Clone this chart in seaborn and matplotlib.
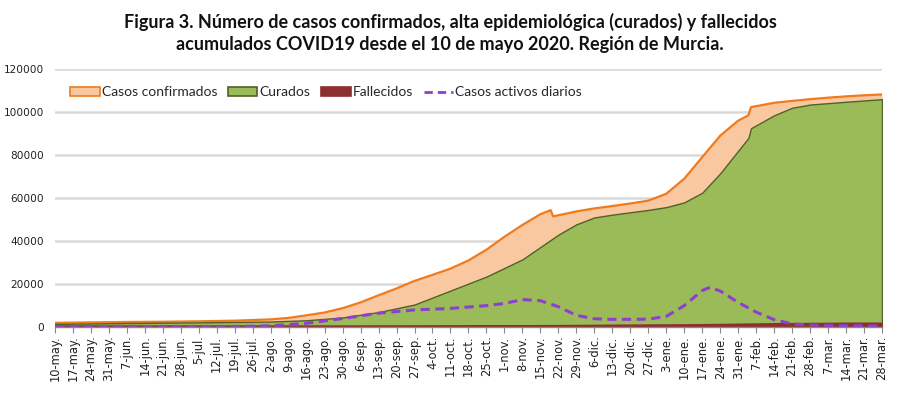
import numpy as np
import pandas as pd
import seaborn as sns
import matplotlib.pyplot as plt
from matplotlib.patches import Patch
from matplotlib.lines import Line2D

# Casos confirmados acumulados
conf_dates = ['2020-05-10', '2020-05-24', '2020-06-07', '2020-06-21', '2020-07-05', '2020-07-19',
              '2020-08-02', '2020-08-09', '2020-08-16', '2020-08-23', '2020-08-30', '2020-09-06',
              '2020-09-13', '2020-09-20', '2020-09-27', '2020-10-04', '2020-10-11', '2020-10-18',
              '2020-10-25', '2020-11-01', '2020-11-08', '2020-11-15', '2020-11-19', '2020-11-20',
              '2020-11-29', '2020-12-06', '2020-12-13', '2020-12-20', '2020-12-27', '2021-01-03',
              '2021-01-10', '2021-01-17', '2021-01-24', '2021-01-31', '2021-02-04', '2021-02-05',
              '2021-02-14', '2021-02-21', '2021-02-28', '2021-03-07', '2021-03-14', '2021-03-21',
              '2021-03-28']
conf_vals = [2000, 2200, 2400, 2500, 2700, 3000,
             3600, 4300, 5500, 6800, 8800, 11500,
             14800, 18000, 21500, 24300, 27200, 31000,
             36000, 42000, 47500, 52500, 54400, 51500,
             53800, 55200, 56300, 57500, 58800, 62000,
             69000, 79000, 89000, 96000, 98500, 102300,
             104300, 105200, 106000, 106700, 107300, 107800,
             108200]

# Curados acumulados
cur_dates = ['2020-05-10', '2020-06-07', '2020-07-05', '2020-08-02', '2020-08-16', '2020-08-30',
             '2020-09-13', '2020-09-27', '2020-10-11', '2020-10-25', '2020-11-08', '2020-11-22',
             '2020-11-29', '2020-12-06', '2020-12-13', '2020-12-27', '2021-01-03', '2021-01-10',
             '2021-01-17', '2021-01-24', '2021-01-31', '2021-02-04', '2021-02-05', '2021-02-14',
             '2021-02-21', '2021-02-28', '2021-03-14', '2021-03-28']
cur_vals = [1500, 1900, 2200, 2600, 3200, 4500,
            7000, 10500, 17000, 23500, 31500, 43000,
            47800, 51000, 52300, 54500, 55800, 58000,
            62500, 71500, 82000, 88000, 92500, 98500,
            102000, 103500, 104800, 106000]

# Fallecidos acumulados
fal_dates = ['2020-05-10', '2020-07-05', '2020-08-30', '2020-09-27', '2020-10-25', '2020-11-22',
             '2020-12-20', '2021-01-17', '2021-02-14', '2021-03-14', '2021-03-28']
fal_vals = [148, 150, 170, 220, 290, 440, 650, 850, 1300, 1530, 1560]

# Casos activos diarios
act_dates = ['2020-05-10', '2020-07-19', '2020-08-02', '2020-08-16', '2020-08-30', '2020-09-13',
             '2020-09-27', '2020-10-11', '2020-10-25', '2020-11-01', '2020-11-08', '2020-11-15',
             '2020-11-22', '2020-11-29', '2020-12-06', '2020-12-13', '2020-12-27', '2021-01-03',
             '2021-01-10', '2021-01-17', '2021-01-20', '2021-01-24', '2021-01-31', '2021-02-07',
             '2021-02-14', '2021-02-21', '2021-02-28', '2021-03-14', '2021-03-28']
act_vals = [250, 300, 600, 1800, 4000, 6500,
            8000, 8700, 10000, 11000, 12800, 12300,
            9500, 5500, 3900, 3600, 3700, 5000,
            10000, 17000, 18500, 16800, 11500, 7000,
            3500, 1500, 1000, 700, 600]

tick_labels = ['10-may.', '17-may.', '24-may.', '31-may.', '7-jun.', '14-jun.', '21-jun.', '28-jun.',
               '5-jul.', '12-jul.', '19-jul.', '26-jul.', '2-ago.', '9-ago.', '16-ago.', '23-ago.',
               '30-ago.', '6-sep.', '13-sep.', '20-sep.', '27-sep.', '4-oct.', '11-oct.', '18-oct.',
               '25-oct.', '1-nov.', '8-nov.', '15-nov.', '22-nov.', '29-nov.', '6-dic.', '13-dic.',
               '20-dic.', '27-dic.', '3-ene.', '10-ene.', '17-ene.', '24-ene.', '31-ene.', '7-feb.',
               '14-feb.', '21-feb.', '28-feb.', '7-mar.', '14-mar.', '21-mar.', '28-mar.']

conf = pd.DataFrame({'fecha': pd.to_datetime(conf_dates), 'valor': conf_vals})
cur = pd.DataFrame({'fecha': pd.to_datetime(cur_dates), 'valor': cur_vals})
fal = pd.DataFrame({'fecha': pd.to_datetime(fal_dates), 'valor': fal_vals})
act = pd.DataFrame({'fecha': pd.to_datetime(act_dates), 'valor': act_vals})
tick_dates = pd.date_range('2020-05-10', periods=len(tick_labels), freq='7D')

sns.set_style('white')
plt.rcParams['font.family'] = ['DejaVu Sans']

c_orange = '#F07A1C'
c_peach = '#FAC8A0'
c_green = '#9BBB59'
c_dgreen = '#4F6228'
c_red = '#8E2F2F'
c_purple = '#8E3FD0'
dash = (0, (3, 1.8))

fig = plt.figure(figsize=(9, 3.97), dpi=100)
ax = fig.add_axes([0.061, 0.176, 0.919, 0.650])

# Areas
ax.fill_between(conf['fecha'], conf['valor'], color=c_peach, lw=0, zorder=1)
sns.lineplot(data=conf, x='fecha', y='valor', color=c_orange, lw=1.6, ax=ax, zorder=2)
ax.fill_between(cur['fecha'], cur['valor'], facecolor=c_green, edgecolor=c_dgreen, lw=1.0, zorder=3)
ax.fill_between(fal['fecha'], fal['valor'], facecolor=c_red, edgecolor=c_red, lw=2.6, zorder=5)
sns.lineplot(data=act, x='fecha', y='valor', color=c_purple, lw=2.2, ax=ax, zorder=6,
             linestyle=dash)

ax.set_xlim(tick_dates[0], tick_dates[-1])
ax.set_ylim(0, 120000)
ax.set_yticks(np.arange(0, 120001, 20000))
ax.set_yticklabels([str(v) for v in range(0, 120001, 20000)], fontsize=7.6, color='#222222')
ax.set_xticks(tick_dates)
ax.set_xticklabels(tick_labels, rotation=90, fontsize=8.3, color='#222222')
ax.set_xlabel('')
ax.set_ylabel('')
ax.grid(axis='y', color='#D9D9D9', lw=1.8, zorder=0)
ax.set_axisbelow(True)
for s in ['top', 'right', 'left']:
    ax.spines[s].set_visible(False)
ax.spines['bottom'].set_color('#888888')
ax.spines['bottom'].set_linewidth(1.0)
ax.spines['bottom'].set_zorder(7)
ax.tick_params(axis='x', length=4, width=0.8, color='#888888', pad=2, bottom=True)
ax.tick_params(axis='y', length=0, pad=8)

handles = [Patch(facecolor=c_peach, edgecolor=c_orange, lw=1.2),
           Patch(facecolor=c_green, edgecolor=c_dgreen, lw=1.2),
           Patch(facecolor=c_red, edgecolor=c_red, lw=1.2),
           Line2D([0], [0], color=c_purple, lw=2, linestyle=dash)]
labels = ['Casos confirmados', 'Curados', 'Fallecidos', 'Casos activos diarios']
ax.legend(handles, labels, loc='upper left', bbox_to_anchor=(0.012, 0.955), ncol=4, frameon=False,
          prop={'family': 'Lato', 'size': 10}, handlelength=2.1, handleheight=0.6,
          handletextpad=0.15, columnspacing=0.8, borderaxespad=0)

fig.text(0.5, 0.945, 'Figura 3. Número de casos confirmados, alta epidemiológica (curados) y fallecidos',
         ha='center', va='center', fontsize=13, fontweight='bold', family='Lato', color='#111111')
fig.text(0.5, 0.888, 'acumulados COVID19 desde el 10 de mayo 2020. Región de Murcia.',
         ha='center', va='center', fontsize=13, fontweight='bold', family='Lato', color='#111111')

plt.savefig('out.png', dpi=100)
